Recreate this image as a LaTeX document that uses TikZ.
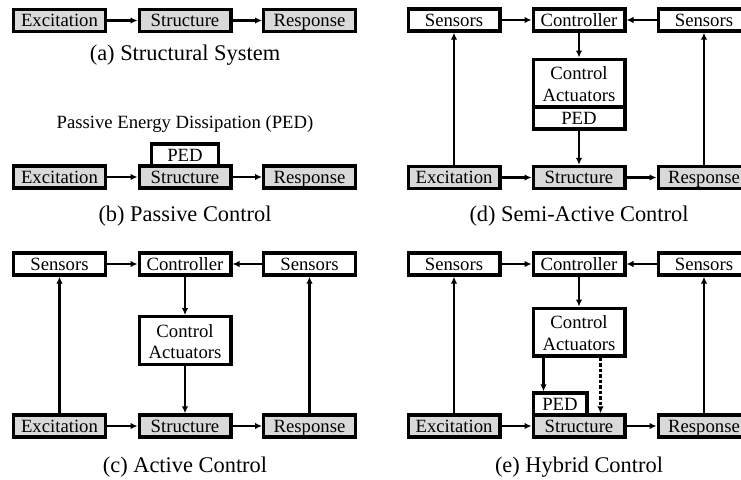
\documentclass[tikz,border=0pt]{standalone}
\usepackage{fontspec}
\setmainfont{Liberation Serif}
\usetikzlibrary{arrows.meta}
\newcommand{\boxfont}{\fontsize{18.7}{21}\selectfont}
\newcommand{\capfont}{\fontsize{22.4}{25}\selectfont}
\newcommand{\actxt}{\rule{0pt}{15.6pt}Control\\[0.5pt]Actuators}
\begin{document}
\begin{tikzpicture}[x=1pt,y=-1pt,
  base/.style={draw, line width=3.4pt, minimum width=91.6pt, inner sep=0pt, font=\boxfont, fill=white},
  blk/.style={base, minimum height=22pt, text height=14.4pt, text depth=2pt},
  gry/.style={blk, fill=gray!30},
  tall/.style={base, minimum height=47.6pt, align=center},
  arr/.style={line width=2.3pt, -{Latex[length=7pt,width=6.5pt]}},
  darr/.style={arr, dash pattern=on 3.5pt off 2pt},
  captxt/.style={font=\capfont, inner sep=0pt},
  lbl/.style={font=\boxfont, inner sep=0pt}]
\clip (0,0) rectangle (741,479);
\fill[white] (0,0) rectangle (741,479);
% (a)
\node[gry] (a1) at (59.5,20.5) {Excitation};
\node[gry] (a2) at (185,20.5) {Structure};
\node[gry] (a3) at (309.5,20.5) {Response};
\draw[arr] (a1) -- (a2);
\draw[arr] (a2) -- (a3);
\node[captxt] (acap) at (185,55) {(a) Structural System};
% (b)
\node[lbl] (btxt) at (185,124) {Passive Energy Dissipation (PED)};
\node[gry] (b1) at (59.5,177) {Excitation};
\node[gry] (b2) at (185,177) {Structure};
\node[gry] (b3) at (309.5,177) {Response};
\node[blk, minimum width=66.6pt, anchor=south] (bped) at ([yshift=-3.4pt]b2.north) {PED};
\draw[arr] (b1) -- (b2);
\draw[arr] (b2) -- (b3);
\node[captxt] (bcap) at (185,216) {(b) Passive Control};
% (c)
\node[blk] (cs1) at (59.5,264) {Sensors};
\node[blk] (cc) at (185,264) {Controller};
\node[blk] (cs2) at (309.5,264) {Sensors};
\node[tall] (cact) at (185,340.5) {\actxt};
\node[gry] (c1) at (59.5,426) {Excitation};
\node[gry] (c2) at (185,426) {Structure};
\node[gry] (c3) at (309.5,426) {Response};
\draw[arr] (cs1) -- (cc);
\draw[arr] (cs2) -- (cc);
\draw[arr] (cc) -- (cact);
\draw[arr] (cact) -- (c2);
\draw[arr] (c1) -- (c2);
\draw[arr] (c2) -- (c3);
\draw[arr] (c1) -- (cs1);
\draw[arr] (c3) -- (cs2);
\node[captxt] (ccap) at (185,467) {(c) Active Control};
% (d)
\node[blk] (ds1) at (454,20) {Sensors};
\node[blk] (dc) at (579,20) {Controller};
\node[blk] (ds2) at (704,20) {Sensors};
\node[tall] (dact) at (579,83) {\actxt};
\node[blk, anchor=north] (dped) at ([yshift=3.4pt]dact.south) {PED};
\node[gry] (d1) at (454,177.5) {Excitation};
\node[gry] (d2) at (579,177.5) {Structure};
\node[gry] (d3) at (704,177.5) {Response};
\draw[arr] (ds1) -- (dc);
\draw[arr] (ds2) -- (dc);
\draw[arr] (dc) -- (dact);
\draw[arr] (dped) -- (d2);
\draw[arr] (d1) -- (d2);
\draw[arr] (d2) -- (d3);
\draw[arr] (d1) -- (ds1);
\draw[arr] (d3) -- (ds2);
\node[captxt] (dcap) at (579,216) {(d) Semi-Active Control};
% (e)
\node[blk] (es1) at (454,264) {Sensors};
\node[blk] (ec) at (579,264) {Controller};
\node[blk] (es2) at (704,264) {Sensors};
\node[tall] (eact) at (579,332) {\actxt};
\node[gry] (e1) at (454,426) {Excitation};
\node[gry] (e2) at (579,426) {Structure};
\node[gry] (e3) at (704,426) {Response};
\node[blk, minimum width=53.6pt, anchor=south west] (eped) at ([yshift=-3.4pt]e2.north west) {PED};
\draw[arr] (es1) -- (ec);
\draw[arr] (es2) -- (ec);
\draw[arr] (ec) -- (eact);
\draw[arr] ([xshift=12pt]eact.south west) -- ([xshift=12pt]eped.north west);
\draw[darr] ([xshift=69pt]eact.south west) -- ([xshift=69pt]e2.north west);
\draw[arr] (e1) -- (e2);
\draw[arr] (e2) -- (e3);
\draw[arr] (e1) -- (es1);
\draw[arr] (e3) -- (es2);
\node[captxt] (ecap) at (579,467) {(e) Hybrid Control};
\end{tikzpicture}
\end{document}
